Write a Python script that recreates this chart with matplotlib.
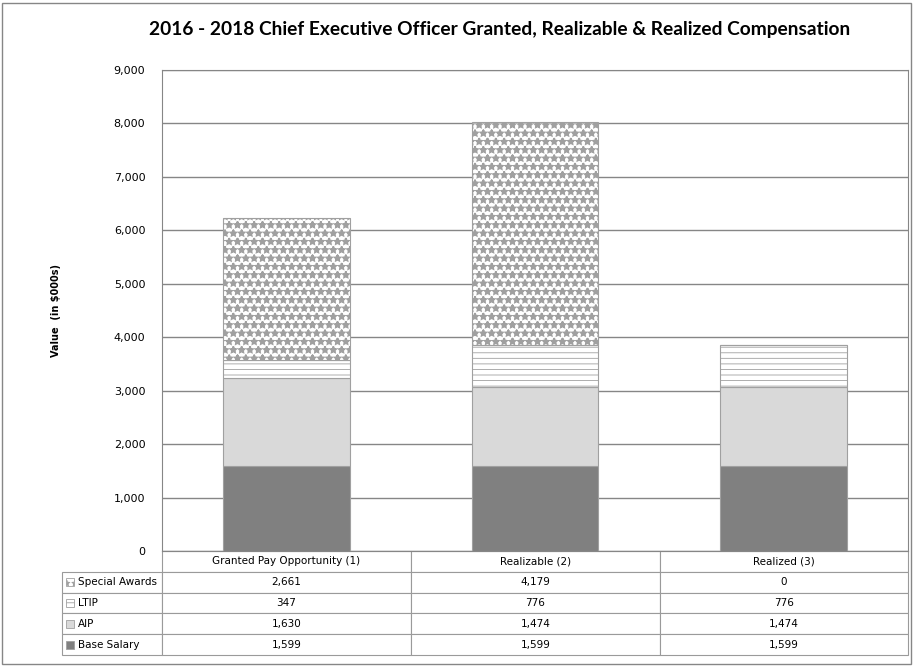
import matplotlib.pyplot as plt
from matplotlib.patches import Rectangle
import numpy as np

plt.rcParams['font.family'] = ['DejaVu Sans']
plt.rcParams['hatch.color'] = '#9a9a9a'

categories = ['Granted Pay Opportunity (1)', 'Realizable (2)', 'Realized (3)']
base_salary = [1599, 1599, 1599]
aip = [1630, 1474, 1474]
ltip = [347, 776, 776]
special_awards = [2661, 4179, 0]

# name, values, fill, hatch, hatch linewidth
series = [
    ('Base Salary', base_salary, '#808080', None, 1.0),
    ('AIP', aip, '#d9d9d9', None, 1.0),
    ('LTIP', ltip, 'white', '---', 0.6),
    ('Special Awards', special_awards, 'white', '**', 1.3),
]


def set_hlw(p, lw):
    if hasattr(p, 'set_hatch_linewidth'):
        p.set_hatch_linewidth(lw)


W, H = 914, 666
fig = plt.figure(figsize=(W / 100, H / 100), dpi=100)

# axes placed by pixel edges of the reference plot area
left, right, top, bottom = 162, 908, 70, 551
ax = fig.add_axes([left / W, 1 - bottom / H, (right - left) / W, (bottom - top) / H])

x = np.arange(len(categories))
bottoms = np.zeros(len(categories))
for name, vals, color, hatch, hlw in series:
    bars = ax.bar(x, vals, width=0.51, bottom=bottoms, color=color, hatch=hatch,
                  edgecolor='#a0a0a0', linewidth=0.8, zorder=3)
    for p in bars:
        set_hlw(p, hlw)
    bottoms += np.array(vals)

ax.set_xlim(-0.5, len(categories) - 0.5)
ax.set_ylim(0, 9000)
ax.set_yticks(np.arange(0, 9001, 1000))
ax.set_yticklabels([f'{v:,}' for v in range(0, 9001, 1000)], fontsize=8)
ax.tick_params(axis='y', length=0, pad=12)
ax.set_xticks([])
ax.grid(axis='y', color='#868686', linewidth=1, zorder=0)
for s in ax.spines.values():
    s.set_color('#868686')
ax.set_ylabel('Value  (in $000s)', fontsize=7, fontweight='bold', labelpad=38)

fig.text(0.547, 1 - 30 / H, '2016 - 2018 Chief Executive Officer Granted, Realizable & Realized Compensation',
         ha='center', va='center', fontsize=13.8, fontweight='bold', family='Lato')

# data table below the plot
rows = [s for s in reversed(series)]
cell_text = [[name] + [f'{v:,}' for v in vals] for name, vals, _, _, _ in rows]
lab_w = 100
aw = right - left
tab = ax.table(cellText=cell_text, colLabels=[''] + categories,
               colWidths=[lab_w, 249, 249, 248], cellLoc='center',
               bbox=[-lab_w / aw, -(655 - bottom) / (bottom - top), (aw + lab_w) / aw,
                     (655 - bottom) / (bottom - top)])
tab.auto_set_font_size(False)
tab.set_fontsize(7.5)
for (r, c), cell in tab.get_celld().items():
    cell.set_edgecolor('#9a9a9a')
    cell.set_linewidth(0.8)
    if r == 0 and c == 0:
        cell.visible_edges = ''
    if c == 0 and r > 0:
        cell.PAD = 0.16
        cell.get_text().set_ha('left')

# legend swatches in the row-label column
row_h = (655 - 572) / 4
for r, (name, _, color, hatch, hlw) in enumerate(rows):
    yc = 572 + row_h * (r + 0.5)
    sw = Rectangle((66 / W, 1 - (yc + 4) / H), 8 / W, 8 / H,
                   transform=fig.transFigure, facecolor=color, hatch=hatch,
                   edgecolor='#a0a0a0', linewidth=0.6)
    set_hlw(sw, min(hlw, 0.8))
    fig.add_artist(sw)

fig.add_artist(Rectangle((2 / W, 2 / H), (W - 5) / W, (H - 5) / H, transform=fig.transFigure,
                         fill=False, edgecolor='#868686', linewidth=1))

fig.savefig('out.png', dpi=100)
